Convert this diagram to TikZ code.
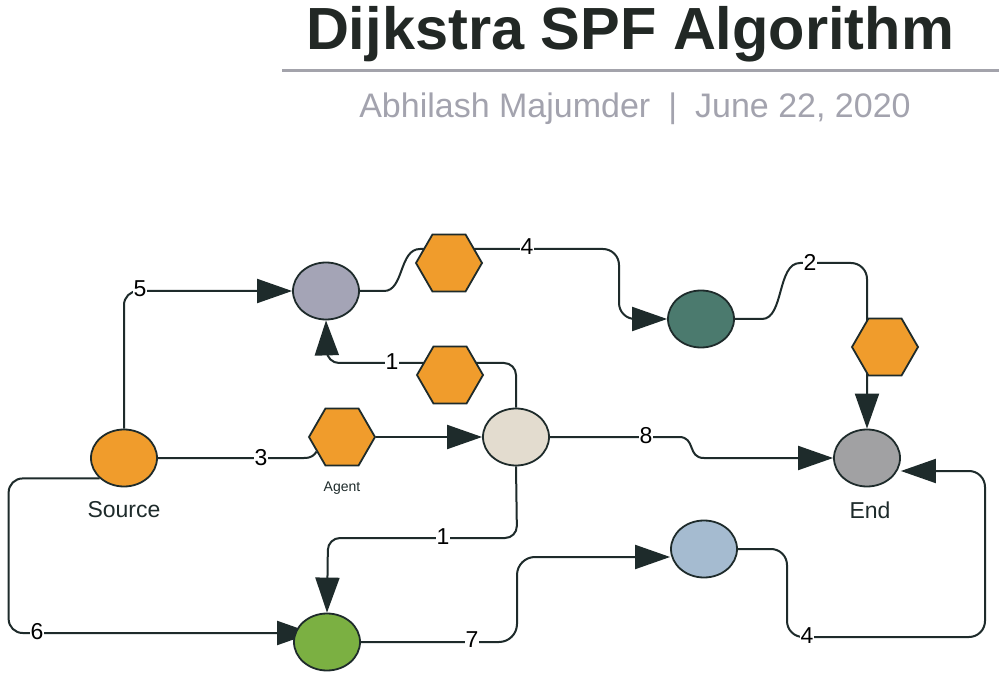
\documentclass[tikz,border=0pt]{standalone}
\usepackage{fontspec}
\setmainfont{Liberation Sans}
\usetikzlibrary{shapes.geometric, arrows.meta, positioning, backgrounds}
\definecolor{ink}{HTML}{1E2B2B}
\definecolor{rulegray}{HTML}{A3A3AB}
\definecolor{subgray}{HTML}{A3A3AE}
\definecolor{titleink}{HTML}{222825}
\definecolor{hexorange}{HTML}{F09C2C}
\definecolor{slate}{HTML}{A4A4B6}
\definecolor{teal}{HTML}{4B7A6E}
\definecolor{endgray}{HTML}{A1A1A3}
\definecolor{sand}{HTML}{E3DCCF}
\definecolor{sky}{HTML}{A5BBD0}
\definecolor{leaf}{HTML}{7BB042}
\tikzset{
x=1pt, y=-1pt, % one unit is one pixel of the layout, y runs downwards
wire/.style={draw=ink, line width=2pt}, % the connectors
arrowed/.style={-{Triangle[length=35pt,width=24pt]}}, % big filled heads
vertex/.style={ellipse, draw=ink, line width=1.8pt, minimum width=66pt, minimum height=57pt, inner sep=0pt},
agent/.style={regular polygon, regular polygon sides=6, draw=ink, line width=1.8pt, fill=hexorange, minimum size=66pt, inner sep=0pt},
cost/.style={fill=white, inner sep=1pt, font=\fontsize{23}{25}\selectfont},
caption/.style={inner sep=0pt, font=\fontsize{23}{26}\selectfont, text=ink},
}
\begin{document}
\begin{tikzpicture}
\useasboundingbox (0,0) rectangle (999,676);
% heading
\node[anchor=base, font=\fontsize{59.5}{64}\selectfont\bfseries, text=titleink] (title) at (630,50) {Dijkstra SPF Algorithm};
\draw[line width=3pt, rulegray] (282,71) -- (999,71);
\node[anchor=base, font=\fontsize{34}{38}\selectfont, text=subgray] (byline) at (635,118) {Abhilash Majumder\hspace{18pt}|\hspace{18pt}June 22, 2020};
% vertices
\node[vertex, fill=hexorange] (src) at (124,458) {};
\node[vertex, fill=slate] (hubA) at (326,291) {};
\node[vertex, fill=teal] (hubB) at (701,319) {};
\node[vertex, fill=endgray] (dest) at (867,458) {};
\node[vertex, fill=sand] (hubC) at (516,437) {};
\node[vertex, fill=sky] (hubD) at (704,549) {};
\node[vertex, fill=leaf] (hubE) at (327,642) {};
\node[caption, below=14pt of src] (srcname) {Source};
\node[caption, below=14pt of dest, xshift=3pt] (destname) {End};
% agents
\node[agent] (agtTop) at (449,263) {};
\node[agent] (agtRight) at (885,347) {};
\node[agent] (agtMid) at (450,375) {};
\node[agent] (agtLow) at (342,437) {};
\node[caption, below=15pt of agtLow, font=\fontsize{14}{16}\selectfont] (agtname) {Agent};
% connectors
\begin{pgfonlayer}{background}
\fill[white] (0,0) rectangle (999,676);
\draw[wire, arrowed, rounded corners=14pt] (src.north) |- (hubA.west);
\draw[wire, arrowed] (hubA.east) -- (384,291) .. controls (404,291) and (399,249) .. (420,249)
  [rounded corners=16pt] -- (619,249) -- (619,319) -- (hubB.west);
\draw[wire, arrowed] (hubB.east) -- (762,319) .. controls (784,319) and (777,263) .. (800,263)
  [rounded corners=16pt] -- (867,263) -- (dest.north);
\draw[wire, arrowed, rounded corners=12pt] (hubC.north) -- (516,363) -- (327,363) -- (hubA.south);
\draw[wire] (src.east) -- (304,458) .. controls (312,458) and (314,455) .. (agtLow.210);
\draw[wire, arrowed] (agtLow.east) -- (hubC.west);
\draw[wire, arrowed] (hubC.east) -- (679,437) .. controls (696,437) and (687,458) .. (704,458) -- (dest.west);
\draw[wire, arrowed, rounded corners=12pt] (hubC.south) -- (517,538) -- (328,538) -- (hubE.north);
\draw[wire, arrowed, rounded corners=14pt] (src.220) -- ++(-91,0) |- ([xshift=19pt,yshift=9pt]hubE.west);
\draw[wire, arrowed, rounded corners=18pt] (hubE.east) -- (517,642) -- (517,557) -- ([yshift=-8pt]hubD.west);
\draw[wire, arrowed, rounded corners=16pt] (hubD.east) -- (787,549) -- (787,637) -- (985,637) -- (985,471) -- ([yshift=-13pt]dest.east);
\end{pgfonlayer}
% weights
\node[cost] (w5) at (140,289) {5};
\node[cost] (w4a) at (527,247) {4};
\node[cost] (w2) at (810,262) {2};
\node[cost] (w1a) at (392,362) {1};
\node[cost] (w3) at (261,458) {3};
\node[cost] (w8) at (646,436) {8};
\node[cost] (w1b) at (443,537) {1};
\node[cost] (w6) at (37,632) {6};
\node[cost] (w7) at (472,640) {7};
\node[cost] (w4b) at (807,636) {4};
\end{tikzpicture}
\end{document}
